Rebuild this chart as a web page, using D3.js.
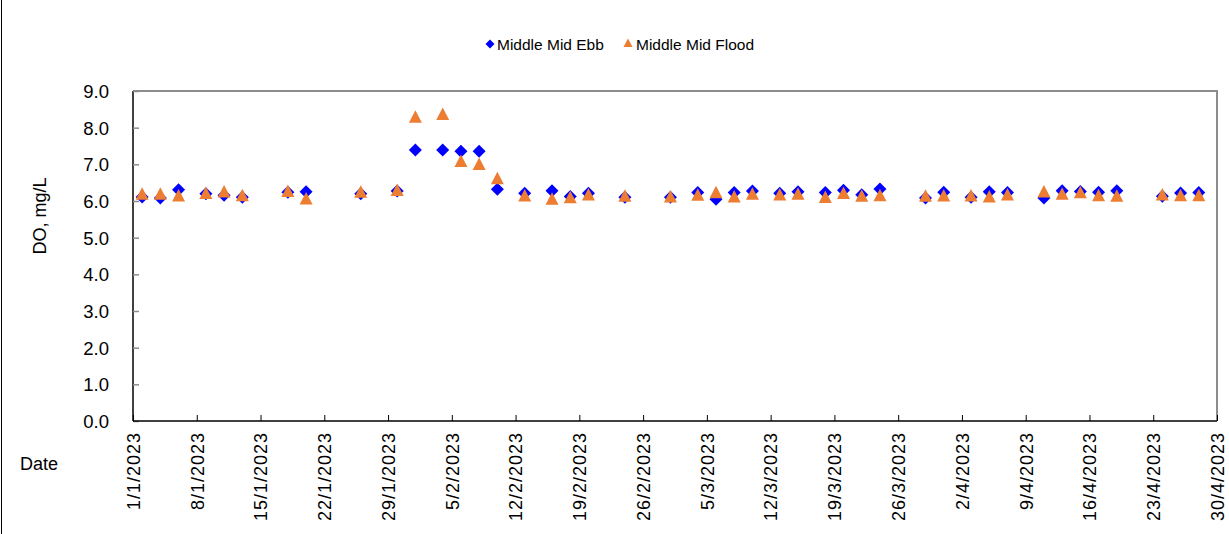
<!DOCTYPE html>
<html><head><meta charset="utf-8">
<script src="https://cdn.jsdelivr.net/npm/d3@7"></script>
<style>html,body{margin:0;padding:0;background:#fff;}svg{display:block;font-family:"Liberation Sans",Arial,sans-serif;}</style>
</head><body>
<svg id="c" width="1229" height="534"></svg>
<script>
const sampleDates = ["2/1/2023","4/1/2023","6/1/2023","9/1/2023","11/1/2023","13/1/2023","18/1/2023","20/1/2023","26/1/2023","30/1/2023",
"1/2/2023","4/2/2023","6/2/2023","8/2/2023","10/2/2023","13/2/2023","16/2/2023","18/2/2023","20/2/2023","24/2/2023",
"1/3/2023","4/3/2023","6/3/2023","8/3/2023","10/3/2023","13/3/2023","15/3/2023","18/3/2023","20/3/2023","22/3/2023","24/3/2023","29/3/2023","31/3/2023",
"3/4/2023","5/4/2023","7/4/2023","11/4/2023","13/4/2023","15/4/2023","17/4/2023","19/4/2023","24/4/2023","26/4/2023","28/4/2023"];
const ebbValues = [6.11,6.08,6.31,6.2,6.16,6.1,6.24,6.25,6.2,6.27,
7.39,7.39,7.36,7.36,6.32,6.21,6.28,6.12,6.21,6.1,
6.1,6.23,6.05,6.23,6.27,6.21,6.25,6.23,6.29,6.17,6.33,6.08,6.24,
6.1,6.25,6.23,6.08,6.28,6.26,6.24,6.28,6.13,6.22,6.23];
const floodValues = [6.2,6.2,6.15,6.22,6.26,6.16,6.27,6.07,6.25,6.3,
8.3,8.37,7.09,7.01,6.62,6.15,6.06,6.1,6.18,6.14,
6.12,6.17,6.24,6.12,6.2,6.18,6.2,6.11,6.22,6.14,6.16,6.14,6.15,
6.15,6.12,6.18,6.26,6.2,6.24,6.16,6.14,6.18,6.16,6.16];
const xTickLabels = ["1/1/2023","8/1/2023","15/1/2023","22/1/2023","29/1/2023","5/2/2023","12/2/2023","19/2/2023","26/2/2023",
"5/3/2023","12/3/2023","19/3/2023","26/3/2023","2/4/2023","9/4/2023","16/4/2023","23/4/2023","30/4/2023"];
const yTickValues = [0,1,2,3,4,5,6,7,8,9];
const seriesNames = ["Middle Mid Ebb","Middle Mid Flood"];
const seriesColors = ["#0000FF","#ED7D31"];

const parse = d3.utcParse("%d/%m/%Y");
const svg = d3.select("#c");
const L = 133, R = 1217, T = 91, B = 421;
const x = d3.scaleUtc().domain([parse(xTickLabels[0]), parse(xTickLabels[xTickLabels.length-1])]).range([L, R]);
const y = d3.scaleLinear().domain([0, 9]).range([B, T]);

// outer frame left edge
svg.append("line").attr("x1",1.5).attr("x2",1.5).attr("y1",0).attr("y2",534).attr("stroke","#000").attr("stroke-width",1);

// plot border top/right
svg.append("path").attr("d",`M${L},${T}H${R}V${B}`).attr("fill","none").attr("stroke","#8c8c8c").attr("stroke-width",2);

// y axis
const yAxis = svg.append("g").attr("transform",`translate(${L},0)`)
  .call(d3.axisRight(y).tickValues(yTickValues).tickSize(6).tickFormat(d3.format(".1f")));
yAxis.select(".domain").attr("stroke","#000").attr("stroke-width",1.5).attr("d",`M0,${T}V${B}`);
yAxis.selectAll(".tick line").attr("stroke","#8c8c8c").attr("stroke-width",1.5);
yAxis.selectAll(".tick text").attr("x",-24).attr("text-anchor","end").attr("font-size","18.5px").attr("fill","#000").attr("dy","0.35em");

// x axis
const xAxis = svg.append("g").attr("transform",`translate(0,${B})`)
  .call(d3.axisTop(x).tickValues(xTickLabels.map(parse)).tickSize(6).tickFormat((d,i)=>xTickLabels[i]));
xAxis.select(".domain").attr("stroke","#000").attr("stroke-width",1.5).attr("d",`M${L},0H${R}`);
xAxis.selectAll(".tick line").attr("stroke","#000").attr("stroke-width",1);
xAxis.selectAll(".tick text")
  .attr("transform","rotate(-90)")
  .attr("x",-11).attr("y",0).attr("dy","0.35em")
  .attr("text-anchor","end").attr("font-size","18px").attr("letter-spacing","1px").attr("fill","#000");

// axis titles
svg.append("text").attr("transform","translate(46,216) rotate(-90)").attr("text-anchor","middle")
  .attr("font-size","18px").text("DO, mg/L");
svg.append("text").attr("x",20).attr("y",470).attr("font-size","18px").text("Date");

// markers
const diamond = "M0,-6.5L6.5,0L0,6.5L-6.5,0Z";
const triangle = "M0,-6.5L6.5,6L-6.5,6Z";
const data = sampleDates.map((d,i)=>({date:parse(d), ebb:ebbValues[i], flood:floodValues[i]}));

svg.append("g").selectAll("path").data(data).join("path")
  .attr("d",diamond).attr("fill",seriesColors[0])
  .attr("transform",d=>`translate(${x(d.date)},${y(d.ebb)})`);
svg.append("g").selectAll("path").data(data).join("path")
  .attr("d",triangle).attr("fill",seriesColors[1])
  .attr("transform",d=>`translate(${x(d.date)},${y(d.flood)})`);

// legend
const lg = svg.append("g");
lg.append("path").attr("d","M0,-4.5L4.5,0L0,4.5L-4.5,0Z").attr("fill",seriesColors[0]).attr("transform","translate(490,44)");
lg.append("text").attr("x",497).attr("y",49.5).attr("font-size","15.5px").text(seriesNames[0]);
lg.append("path").attr("d","M0,-4.5L4.5,4L-4.5,4Z").attr("fill",seriesColors[1]).attr("transform","translate(628,43)");
lg.append("text").attr("x",636).attr("y",49.5).attr("font-size","15.5px").text(seriesNames[1]);
</script>
</body></html>
